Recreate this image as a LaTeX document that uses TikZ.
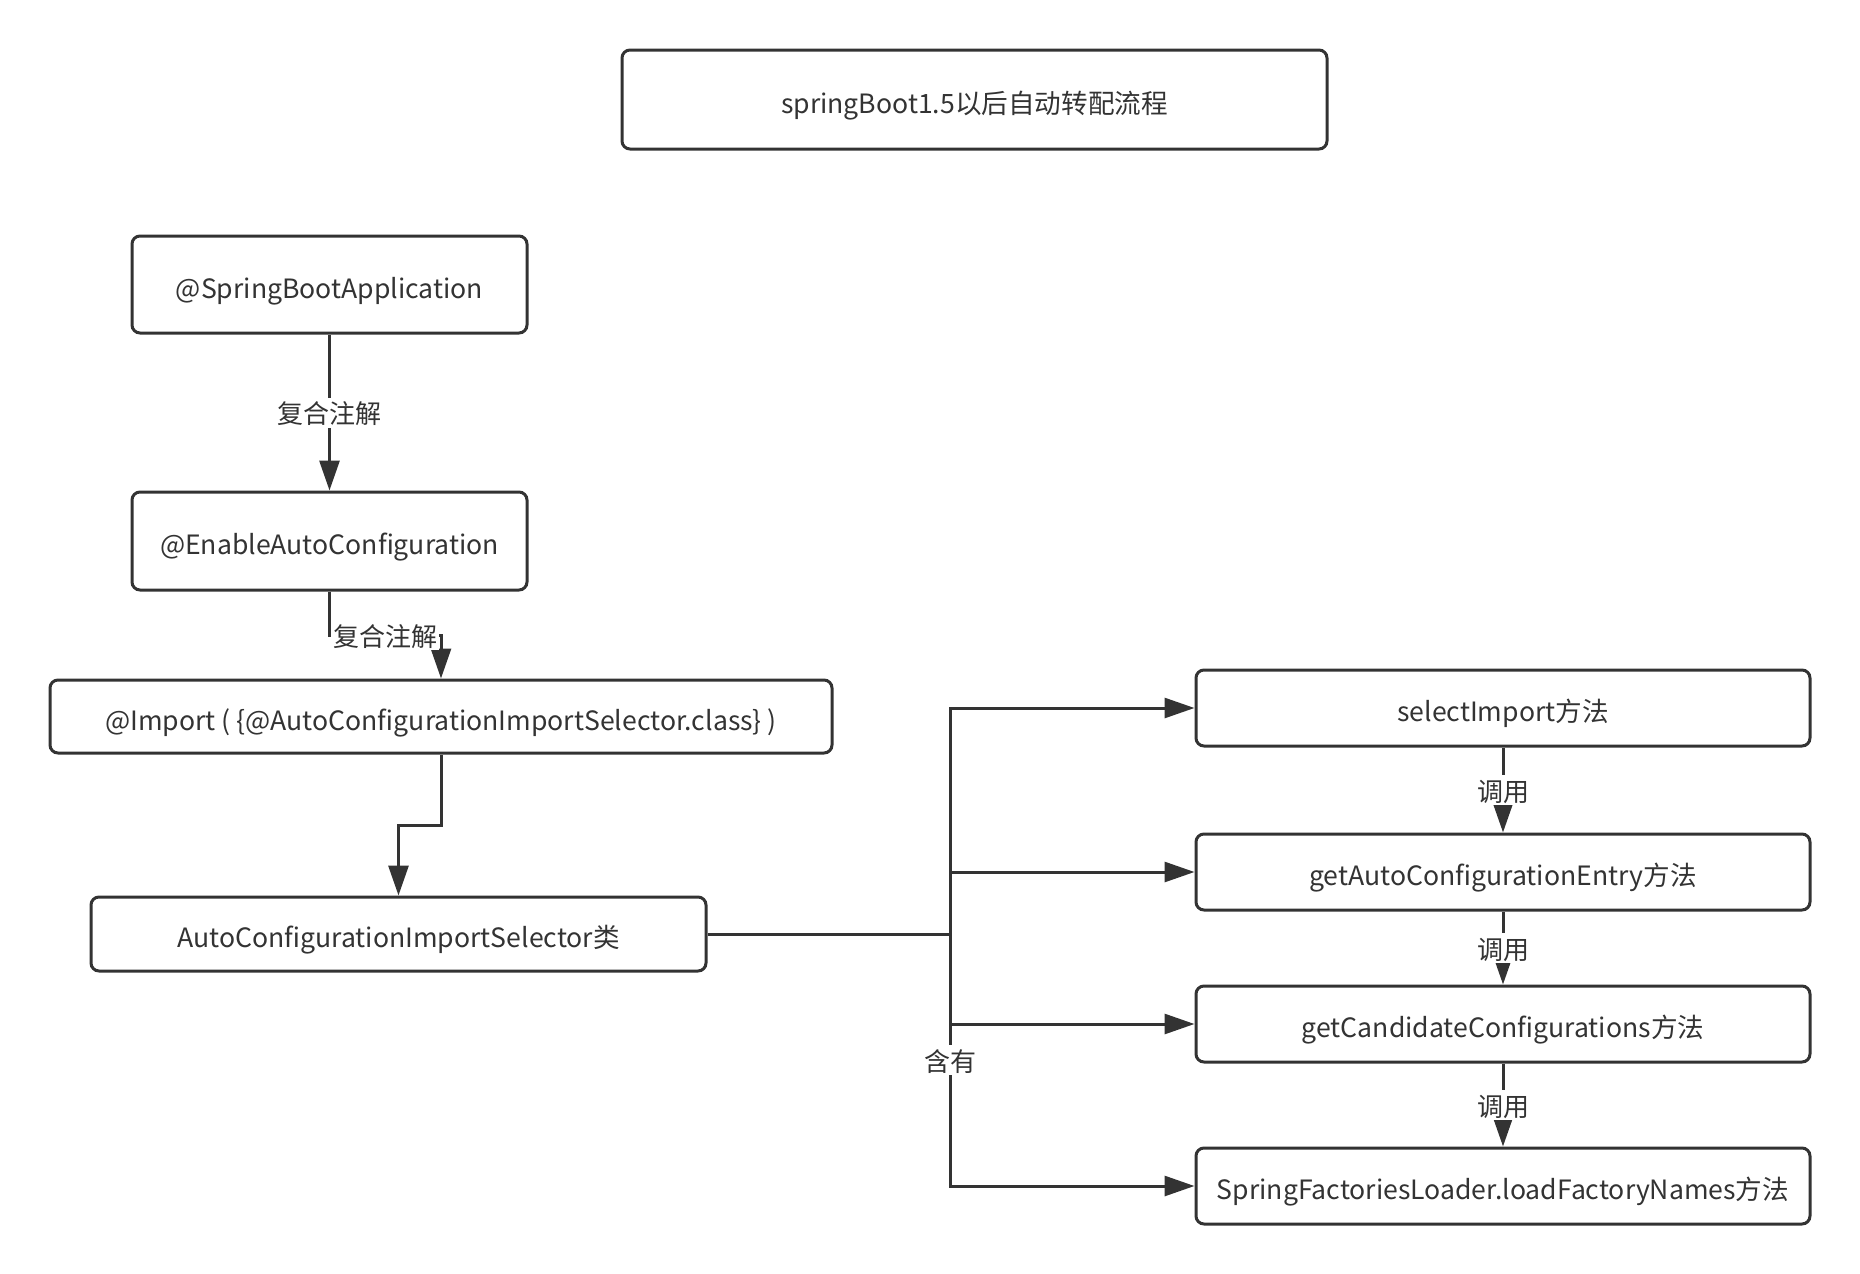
\documentclass[tikz,border=0pt]{standalone}
\usepackage{fontspec}
\setmainfont{Noto Sans CJK SC}
\usetikzlibrary{arrows.meta,calc}
\definecolor{ink}{HTML}{333333}
\begin{document}
\begin{tikzpicture}[x=0.5pt,y=-0.5pt,
  blk/.style={draw=ink,line width=1.5pt,rounded corners=4pt,text=ink,inner sep=0pt,text height=14pt,text depth=0.5pt,font=\fontsize{13.3}{15}\selectfont},
  arr/.style={draw=ink,line width=1.5pt,-{Triangle[length=15pt,width=10pt]}},
  lbl/.style={fill=white,text=ink,inner sep=1pt,text height=12pt,text depth=1pt,font=\fontsize{13}{15}\selectfont}]
  \useasboundingbox (0,0) rectangle (1860,1274);
  \node[blk,minimum width=352.5pt,minimum height=49.5pt] (title) at (974.5,99.5) {springBoot1.5以后自动转配流程};
  \node[blk,minimum width=197.5pt,minimum height=48.5pt] (sba) at (329.5,284.5) {@SpringBootApplication};
  \node[blk,minimum width=197.5pt,minimum height=49pt] (eac) at (329.5,541) {@EnableAutoConfiguration};
  \node[blk,minimum width=391pt,minimum height=36.5pt] (imp) at (441,716.5) {@Import ( \{@AutoConfigurationImportSelector.class\} )};
  \node[blk,minimum width=307.5pt,minimum height=37pt] (acis) at (398.5,934) {AutoConfigurationImportSelector类};
  \node[blk,minimum width=307pt,minimum height=38pt] (sel) at (1503,708) {selectImport方法};
  \node[blk,minimum width=307pt,minimum height=38pt] (ace) at (1503,872) {getAutoConfigurationEntry方法};
  \node[blk,minimum width=307pt,minimum height=38pt] (cc) at (1503,1024) {getCandidateConfigurations方法};
  \node[blk,minimum width=307pt,minimum height=38pt] (sfl) at (1503,1186) {SpringFactoriesLoader.loadFactoryNames方法};

  \draw[arr] (sba) -- node[lbl] {复合注解} (eac);
  \coordinate (m0) at ($(eac.south)!.5!(imp.north)$);
  \draw[arr] (eac.south) |- (m0) -| (imp.north);
  \node[lbl] (l0) at (m0) {复合注解};
  \coordinate (m1) at ($(imp.south)!.5!(acis.north)$);
  \draw[arr] (imp.south) |- (m1) -| (acis.north);

  \coordinate (hub) at (950,934);
  \draw[draw=ink,line width=1.5pt] (acis.east) -- (hub);
  \foreach \t in {sel,ace,cc} \draw[arr] (hub) |- (\t.west);
  \draw[arr] (hub) |- node[lbl,pos=.25] {含有} (sfl.west);
  \foreach \a/\b in {sel/ace,ace/cc,cc/sfl} \draw[arr] (\a) -- node[lbl] {调用} (\b);
\end{tikzpicture}
\end{document}
